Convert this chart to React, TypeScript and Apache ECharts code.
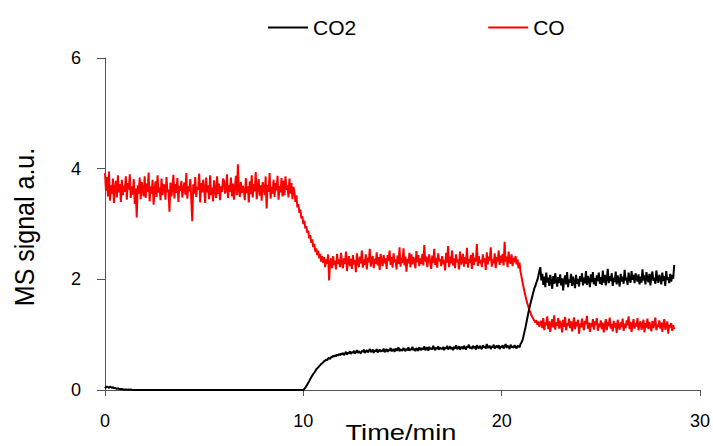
import React, { useEffect, useRef } from "react";
import * as echarts from "echarts";

const sampleStart = 0;
const sampleStep = 0.05;

const co2Values = [
  0.03,0.05,0.06,0.05,0.04,0.06,0.05,0.04,0.05,0.03,0.04,0.03,0.02,0.03,0.02,0.02,0.01,0.02,0.01,0.01,
  0.01,0.01,0.01,0.00,0.01,0.00,0.01,0.00,0.00,0.00,0.00,0.00,0.00,0.00,0.00,0.00,0.00,0.00,0.00,0.00,
  0,0,0,0,0,0,0,0,0,0,0,0,0,0,0,0,0,0,0,0,
  0,0,0,0,0,0,0,0,0,0,0,0,0,0,0,0,0,0,0,0,
  0,0,0,0,0,0,0,0,0,0,0,0,0,0,0,0,0,0,0,0,
  0,0,0,0,0,0,0,0,0,0,0,0,0,0,0,0,0,0,0,0,
  0,0,0,0,0,0,0,0,0,0,0,0,0,0,0,0,0,0,0,0,
  0,0,0,0,0,0,0,0,0,0,0,0,0,0,0,0,0,0,0,0,
  0,0,0,0,0,0,0,0,0,0,0,0,0,0,0,0,0,0,0,0,
  0,0,0,0,0,0,0,0,0,0,0,0,0,0,0,0,0,0,0,0,
  0.00,0.02,0.04,0.07,0.10,0.13,0.16,0.20,0.23,0.26,0.29,0.31,0.34,0.37,0.39,0.41,0.43,0.45,0.47,0.48,
  0.50,0.52,0.53,0.55,0.54,0.57,0.58,0.56,0.60,0.59,0.62,0.60,0.63,0.61,0.64,0.62,0.65,0.63,0.66,0.64,
  0.67,0.63,0.66,0.69,0.64,0.68,0.66,0.70,0.65,0.69,0.67,0.71,0.66,0.68,0.72,0.67,0.70,0.68,0.66,0.71,
  0.69,0.73,0.67,0.70,0.72,0.68,0.71,0.74,0.69,0.70,0.73,0.67,0.72,0.70,0.74,0.68,0.71,0.73,0.69,0.72,
  0.70,0.75,0.68,0.72,0.74,0.69,0.73,0.71,0.76,0.70,0.72,0.74,0.69,0.75,0.71,0.73,0.77,0.70,0.74,0.72,
  0.71,0.76,0.73,0.70,0.75,0.72,0.77,0.71,0.74,0.73,0.78,0.72,0.75,0.70,0.76,0.73,0.71,0.77,0.74,0.72,
  0.76,0.73,0.79,0.72,0.75,0.77,0.71,0.78,0.74,0.76,0.73,0.80,0.75,0.72,0.77,0.74,0.79,0.73,0.76,0.75,
  0.74,0.78,0.72,0.77,0.75,0.80,0.73,0.76,0.79,0.74,0.77,0.72,0.78,0.75,0.81,0.74,0.76,0.79,0.73,0.77,
  0.78,0.74,0.80,0.76,0.73,0.79,0.77,0.82,0.75,0.78,0.74,0.80,0.76,0.79,0.73,0.81,0.77,0.75,0.80,0.76,
  0.74,0.81,0.77,0.79,0.75,0.83,0.76,0.78,0.80,0.74,0.79,0.77,0.82,0.75,0.78,0.80,0.76,0.81,0.74,0.79,
  0.77,0.81,0.75,0.79,0.83,0.76,0.80,0.78,0.74,0.82,0.77,0.79,0.76,0.81,0.78,0.75,0.80,0.79,0.77,0.83,
  0.86,0.90,0.97,1.05,1.13,1.22,1.31,1.40,1.48,1.56,1.63,1.70,1.77,1.84,1.88,1.94,1.99,2.06,2.15,2.22,
  1.98,2.10,1.90,2.05,1.86,2.12,1.94,2.03,1.88,2.08,1.96,1.83,2.06,1.92,2.11,1.97,1.87,2.04,1.93,2.09,
  1.89,2.02,1.80,1.98,2.07,1.91,2.13,1.86,2.00,1.94,2.10,1.88,2.05,1.95,1.84,2.08,1.92,2.01,1.87,2.06,
  1.96,2.11,1.89,2.03,1.93,2.15,1.90,2.06,1.98,1.86,2.09,1.95,2.13,1.91,2.02,1.88,2.07,1.97,2.12,1.92,
  2.04,1.90,2.16,1.94,2.08,1.89,2.01,2.19,1.93,2.06,1.97,2.11,1.88,2.03,1.95,2.14,1.91,2.07,1.99,1.87,
  2.10,1.96,2.05,1.92,2.17,1.98,2.03,1.90,2.12,2.00,1.94,2.15,1.99,2.08,1.93,2.11,2.02,1.96,2.09,1.91,
  2.05,1.94,2.18,1.98,2.07,1.91,2.13,2.01,1.95,2.10,1.89,2.06,2.14,1.97,2.03,1.92,2.16,2.00,1.94,2.08,
  2.02,1.91,2.12,1.97,2.06,1.88,2.15,1.99,2.04,1.93,2.10,1.96,2.08,2.01,2.26,
];

const coValues = [
  3.92,3.60,3.85,3.50,3.95,3.42,3.70,3.55,3.82,3.38,3.66,3.78,3.48,3.88,3.57,3.72,3.40,3.80,3.52,3.69,
  3.58,3.86,3.44,3.74,3.62,3.90,3.47,3.68,3.53,3.81,3.36,3.64,3.12,3.70,3.55,3.84,3.45,3.76,3.60,3.50,
  3.86,3.47,3.73,3.58,3.93,3.41,3.68,3.55,3.80,3.35,3.63,3.77,3.49,3.88,3.57,3.66,3.43,3.82,3.52,3.71,
  3.70,3.44,3.85,3.58,3.62,3.22,3.75,3.50,3.66,3.89,3.46,3.72,3.56,3.83,3.40,3.69,3.60,3.78,3.48,3.63,
  3.75,3.53,3.92,3.46,3.68,3.59,3.81,3.44,3.05,3.72,3.55,3.85,3.49,3.67,3.62,3.91,3.39,3.74,3.57,3.80,
  3.64,3.38,3.84,3.57,3.70,3.45,3.88,3.52,3.66,3.41,3.79,3.60,3.47,3.86,3.54,3.73,3.43,3.68,3.58,3.82,
  3.78,3.55,3.62,3.90,3.47,3.70,3.58,3.84,3.50,3.73,3.44,3.66,3.87,3.52,4.08,3.61,3.49,3.76,3.56,3.69,
  3.60,3.43,3.83,3.56,3.68,3.39,3.77,3.54,3.88,3.48,3.72,3.59,3.94,3.45,3.65,3.81,3.51,3.70,3.42,3.76,
  3.66,3.52,3.86,3.28,3.71,3.58,3.92,3.46,3.67,3.55,3.80,3.49,3.74,3.61,3.87,3.44,3.69,3.57,3.83,3.50,
  3.78,3.52,3.86,3.62,3.70,3.48,3.82,3.55,3.74,3.45,3.67,3.58,3.40,3.52,3.30,3.36,3.20,3.26,3.10,3.14,
  3.00,3.06,2.92,2.96,2.84,2.88,2.74,2.80,2.66,2.72,2.58,2.64,2.50,2.56,2.44,2.52,2.38,2.46,2.32,2.42,
  2.30,2.40,2.22,2.36,2.28,2.45,1.98,2.30,2.38,2.20,2.42,2.26,2.34,2.18,2.46,2.28,2.36,2.22,2.48,2.31,
  2.20,2.38,2.28,2.50,2.15,2.33,2.42,2.24,2.37,2.19,2.44,2.27,2.35,2.13,2.47,2.30,2.22,2.41,2.29,2.52,
  2.21,2.36,2.26,2.45,2.18,2.39,2.31,2.55,2.23,2.34,2.42,2.20,2.37,2.28,2.49,2.25,2.40,2.17,2.46,2.32,
  2.24,2.44,2.29,2.38,2.19,2.44,2.33,2.52,2.26,2.40,2.21,2.47,2.31,2.36,2.18,2.43,2.28,2.58,2.23,2.39,
  2.30,2.56,2.25,2.41,2.14,2.37,2.29,2.48,2.22,2.45,2.27,2.40,2.33,2.20,2.51,2.31,2.44,2.24,2.38,2.28,
  2.46,2.25,2.62,2.32,2.41,2.22,2.36,2.45,2.28,2.19,2.43,2.30,2.55,2.26,2.39,2.21,2.47,2.33,2.37,2.24,
  2.42,2.27,2.35,2.16,2.48,2.30,2.60,2.22,2.41,2.29,2.52,2.25,2.38,2.20,2.45,2.31,2.36,2.18,2.50,2.27,
  2.33,2.46,2.23,2.40,2.28,2.57,2.21,2.37,2.30,2.44,2.19,2.48,2.26,2.39,2.32,2.64,2.24,2.42,2.29,2.35,
  2.22,2.45,2.31,2.38,2.17,2.49,2.27,2.41,2.34,2.58,2.23,2.36,2.29,2.47,2.20,2.40,2.32,2.52,2.26,2.43,
  2.30,2.46,2.25,2.68,2.32,2.41,2.22,2.50,2.36,2.28,2.45,2.24,2.39,2.31,2.42,2.27,2.36,2.20,2.30,2.14,
  2.05,1.95,1.86,1.78,1.70,1.62,1.56,1.50,1.44,1.40,1.35,1.32,1.28,1.25,1.22,1.26,1.18,1.24,1.14,1.22,
  1.25,1.12,1.30,1.08,1.22,1.17,1.33,1.10,1.24,1.05,1.20,1.28,1.13,1.35,1.09,1.22,1.16,1.30,1.11,1.25,
  1.18,1.04,1.27,1.14,1.32,1.08,1.21,1.16,1.29,1.12,1.24,1.06,1.19,1.31,1.10,1.23,1.15,1.27,1.02,1.20,
  1.13,1.29,1.17,1.08,1.25,1.19,1.34,1.11,1.22,1.05,1.21,1.15,1.28,1.09,1.24,1.18,1.30,1.07,1.20,1.14,
  1.26,1.10,1.22,1.04,1.17,1.28,1.08,1.23,1.15,1.31,1.11,1.19,1.06,1.25,1.13,1.21,1.03,1.27,1.16,1.09,
  1.22,1.14,1.29,1.07,1.20,1.12,1.26,1.17,1.33,1.10,1.23,1.05,1.18,1.28,1.11,1.21,1.15,1.30,1.08,1.19,
  1.24,1.09,1.17,1.27,1.04,1.21,1.13,1.29,1.10,1.23,1.16,1.06,1.25,1.12,1.20,1.31,1.08,1.18,1.14,1.26,
  1.11,1.22,1.05,1.19,1.28,1.09,1.16,1.24,1.02,1.18,1.13,1.21,1.07,1.17,1.10,
];

const seriesNames = ["CO2", "CO"];
const xTicks = { min: 0, max: 30, interval: 10 };
const yTicks = { min: 0, max: 6, interval: 2 };
const xTitle = "Time/min";
const yTitle = "MS signal a.u.";

const FONT = "'Liberation Sans', Arial, sans-serif";
const AXIS_COLOR = "#555555";

function toPairs(values: number[]) {
  return values.map((v, i) => [+(sampleStart + i * sampleStep).toFixed(2), v]);
}

export default function App() {
  const ref = useRef<HTMLDivElement>(null);
  useEffect(() => {
    if (!ref.current) return;
    const chart = echarts.init(ref.current, undefined, { renderer: "svg" });
    chart.setOption({
      animation: false,
      backgroundColor: "#ffffff",
      textStyle: { fontFamily: FONT },
      legend: {
        left: 263,
        top: 12,
        icon: "rect",
        itemWidth: 40,
        itemHeight: 2,
        itemGap: 132,
        textStyle: { fontFamily: FONT, fontSize: 21, color: "#000" },
        data: seriesNames,
      },
      grid: { left: 105, right: 11, top: 58, bottom: 56, containLabel: false },
      xAxis: {
        type: "value",
        min: xTicks.min,
        max: xTicks.max,
        interval: xTicks.interval,
        axisLine: { show: true, lineStyle: { color: AXIS_COLOR, width: 1 } },
        axisTick: { show: true, length: 6, inside: false, lineStyle: { color: AXIS_COLOR } },
        axisLabel: { fontFamily: FONT, fontSize: 18, color: "#000", margin: 22 },
        splitLine: { show: false },
      },
      yAxis: {
        type: "value",
        min: yTicks.min,
        max: yTicks.max,
        interval: yTicks.interval,
        axisLine: { show: true, lineStyle: { color: AXIS_COLOR, width: 1 } },
        axisTick: { show: true, length: 8, inside: false, lineStyle: { color: AXIS_COLOR } },
        axisLabel: { fontFamily: FONT, fontSize: 18, color: "#000", margin: 24 },
        splitLine: { show: false },
      },
      graphic: [
        {
          type: "text",
          x: 401,
          y: 421,
          scaleX: 1.24,
          style: {
            text: xTitle,
            fontFamily: FONT,
            fontSize: 22,
            fill: "#000",
            align: "center",
            verticalAlign: "top",
          },
        },
        {
          type: "text",
          x: 25,
          y: 227,
          rotation: Math.PI / 2,
          scaleY: 1.12,
          style: {
            text: yTitle,
            fontFamily: FONT,
            fontSize: 25,
            fill: "#000",
            align: "center",
            verticalAlign: "middle",
          },
        },
      ],
      series: [
        {
          name: seriesNames[0],
          type: "line",
          symbol: "none",
          data: toPairs(co2Values),
          lineStyle: { color: "#000000", width: 2 },
          itemStyle: { color: "#000000" },
          z: 3,
        },
        {
          name: seriesNames[1],
          type: "line",
          symbol: "none",
          data: toPairs(coValues),
          lineStyle: { color: "#ff0000", width: 2 },
          itemStyle: { color: "#ff0000" },
          z: 2,
        },
      ],
    });
    return () => chart.dispose();
  }, []);
  return <div ref={ref} style={{ width: 713, height: 446, position: "absolute", left: 0, top: 0 }} />;
}
